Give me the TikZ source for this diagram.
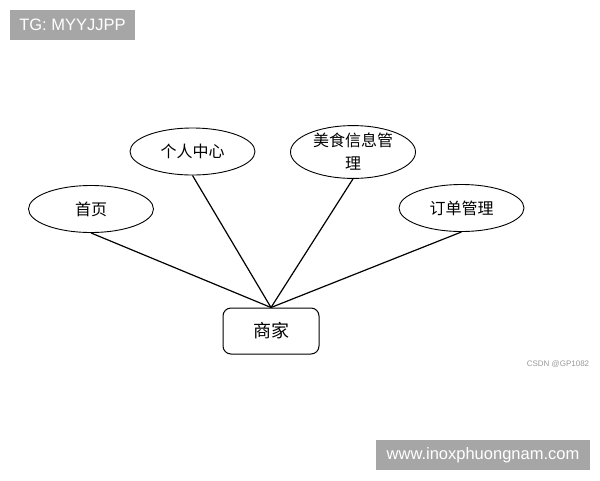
\documentclass[tikz,border=0pt]{standalone}
\usepackage{fontspec}
\setmainfont{Liberation Sans}
\newfontfamily\cjk{Noto Sans CJK SC}
\usetikzlibrary{shapes.geometric}

\begin{document}
\begin{tikzpicture}
[x=1pt,y=-1pt,
  ellipseDecorate/.style={shape=ellipse,draw,line width=0.9pt,inner sep=0pt,%
    minimum width=125pt,minimum height=47pt,align=center,%
    font=\cjk\fontsize{16}{23}\selectfont},%
  boxDecorate/.style={shape=rectangle,draw,line width=1pt,rounded corners=8pt,%
    minimum width=96pt,minimum height=46pt,font=\cjk\fontsize{18}{20}\selectfont},%
  tagDecorate/.style={shape=rectangle,fill=black!35,text=white,inner sep=0pt,%
    minimum height=30pt,font=\fontsize{16.5}{19}\selectfont},%
  lineDecorate/.style={-,line width=1.2pt}]
\useasboundingbox (0,0) rectangle (600,480);
%% ellipses
\foreach \nodename/\x/\y/\nodetext in {
  home/91/209/{首页}, center/192.5/151.5/{个人中心},
  food/353/152/{美食信息管\\理}, order/461.5/208/{订单管理}}
{
  \node (\nodename) at (\x,\y) [ellipseDecorate] {\nodetext};
}
%% merchant
\node (shop) at (271,331) [boxDecorate] {商家};
%% edges
\path
\foreach \startnode in {home, center, food, order}
{
  (\startnode.south) edge[lineDecorate] (shop.north)
};
%% watermarks
\node (tag) at (72.5,25) [tagDecorate,minimum width=125pt] {TG: MYYJJPP};
\node (site) at (483,455) [tagDecorate,minimum width=214pt] {www.inoxphuongnam.com};
\node (csdn) at (558,364) [text=black!40,font=\fontsize{8}{9}\selectfont] {CSDN @GP1082};
\end{tikzpicture}
\end{document}
